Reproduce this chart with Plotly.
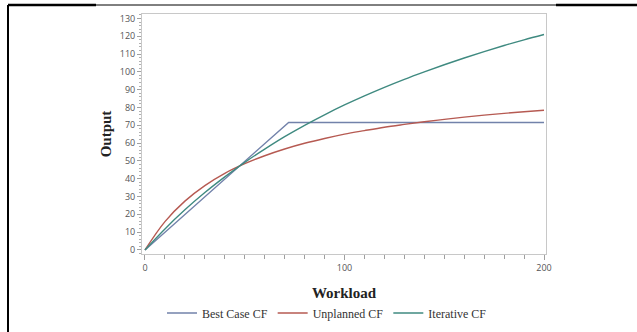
import plotly.graph_objects as go

# Data
best_x = [0, 72, 200]
best_y = [0, 71.6, 71.6]

work = [0, 10, 20, 30, 40, 50, 60, 70, 80, 90, 100, 110, 120, 130, 140, 150, 160, 170, 180, 190, 200]
unplanned = [0, 15.9, 27.4, 36.1, 43.0, 48.4, 52.9, 56.7, 59.9, 62.6, 65.0, 67.0, 68.9, 70.5, 72.0, 73.3, 74.6, 75.7, 76.7, 77.6, 78.4]
iterative = [0, 11.8, 22.5, 32.2, 41.0, 49.2, 56.6, 63.6, 70.0, 75.9, 81.4, 86.5, 91.3, 95.8, 100.0, 104.0, 107.8, 111.4, 114.8, 118.0, 121.0]

names = ["Best Case CF", "Unplanned CF", "Iterative CF"]
colors = ["#7282aa", "#b65a52", "#3f8a80"]
y_ticks = list(range(0, 131, 10))
x_ticks = [0, 100, 200]

fig = go.Figure()
fig.add_trace(go.Scatter(x=best_x, y=best_y, mode="lines", name=names[0],
                         line=dict(color=colors[0], width=1.4)))
fig.add_trace(go.Scatter(x=work, y=unplanned, mode="lines", name=names[1],
                         line=dict(color=colors[1], width=1.4, shape="spline")))
fig.add_trace(go.Scatter(x=work, y=iterative, mode="lines", name=names[2],
                         line=dict(color=colors[2], width=1.4, shape="spline")))

W, H = 637, 332
L, R, T, B = 142, 91, 14, 78
pw, ph = W - L - R, H - T - B

def px(xp):
    return (xp - L) / pw

def py(yp):
    return (H - B - yp) / ph

axis_common = dict(showgrid=False, zeroline=False, showline=True, linecolor="#c8c8c8",
                   linewidth=1, mirror=True, ticks="outside", tickcolor="#a0a0a0",
                   automargin=False,
                   tickfont=dict(family="Open Sans, DejaVu Sans, sans-serif", size=9, color="#555555"))

fig.update_layout(
    width=W, height=H,
    margin=dict(l=L, r=R, t=T, b=B, autoexpand=False),
    paper_bgcolor="white", plot_bgcolor="white",
    xaxis=dict(range=[-1.5, 201], tickvals=x_ticks, ticklen=5,
               minor=dict(dtick=10, tick0=0, ticklen=4, ticks="outside", tickcolor="#a0a0a0", showgrid=False),
               title=dict(text="<b>Workload</b>", font=dict(family="Liberation Serif, Times New Roman, serif", size=15, color="#222222"), standoff=14),
               **axis_common),
    yaxis=dict(range=[-2.3, 132.5], tickvals=y_ticks, ticklen=4,
               minor=dict(dtick=2, tick0=0, ticklen=2, ticks="outside", tickcolor="#b0b0b0", showgrid=False),
               title=dict(text="<b>Output</b>", font=dict(family="Liberation Serif, Times New Roman, serif", size=15, color="#222222"), standoff=4),
               **axis_common),
    showlegend=True,
    legend=dict(orientation="h", x=px(327), xanchor="center", y=py(313), yanchor="middle",
                font=dict(family="Liberation Serif, Times New Roman, serif", size=12, color="#333333"),
                bgcolor="rgba(0,0,0,0)", itemwidth=30, tracegroupgap=0),
    shapes=[
        dict(type="line", xref="paper", yref="paper", x0=px(8), x1=px(8), y0=py(5), y1=py(332),
             line=dict(color="black", width=2)),
        dict(type="line", xref="paper", yref="paper", x0=px(8), x1=px(637), y0=py(5), y1=py(5),
             line=dict(color="black", width=1)),
        dict(type="line", xref="paper", yref="paper", x0=px(8), x1=px(96), y0=py(5), y1=py(5),
             line=dict(color="black", width=2.5)),
        dict(type="line", xref="paper", yref="paper", x0=px(556), x1=px(637), y0=py(5), y1=py(5),
             line=dict(color="black", width=2.5)),
    ],
)

fig.write_html("out.html", config={"displayModeBar": False},
               post_script="document.body.style.margin='0';document.body.style.overflow='hidden';")
